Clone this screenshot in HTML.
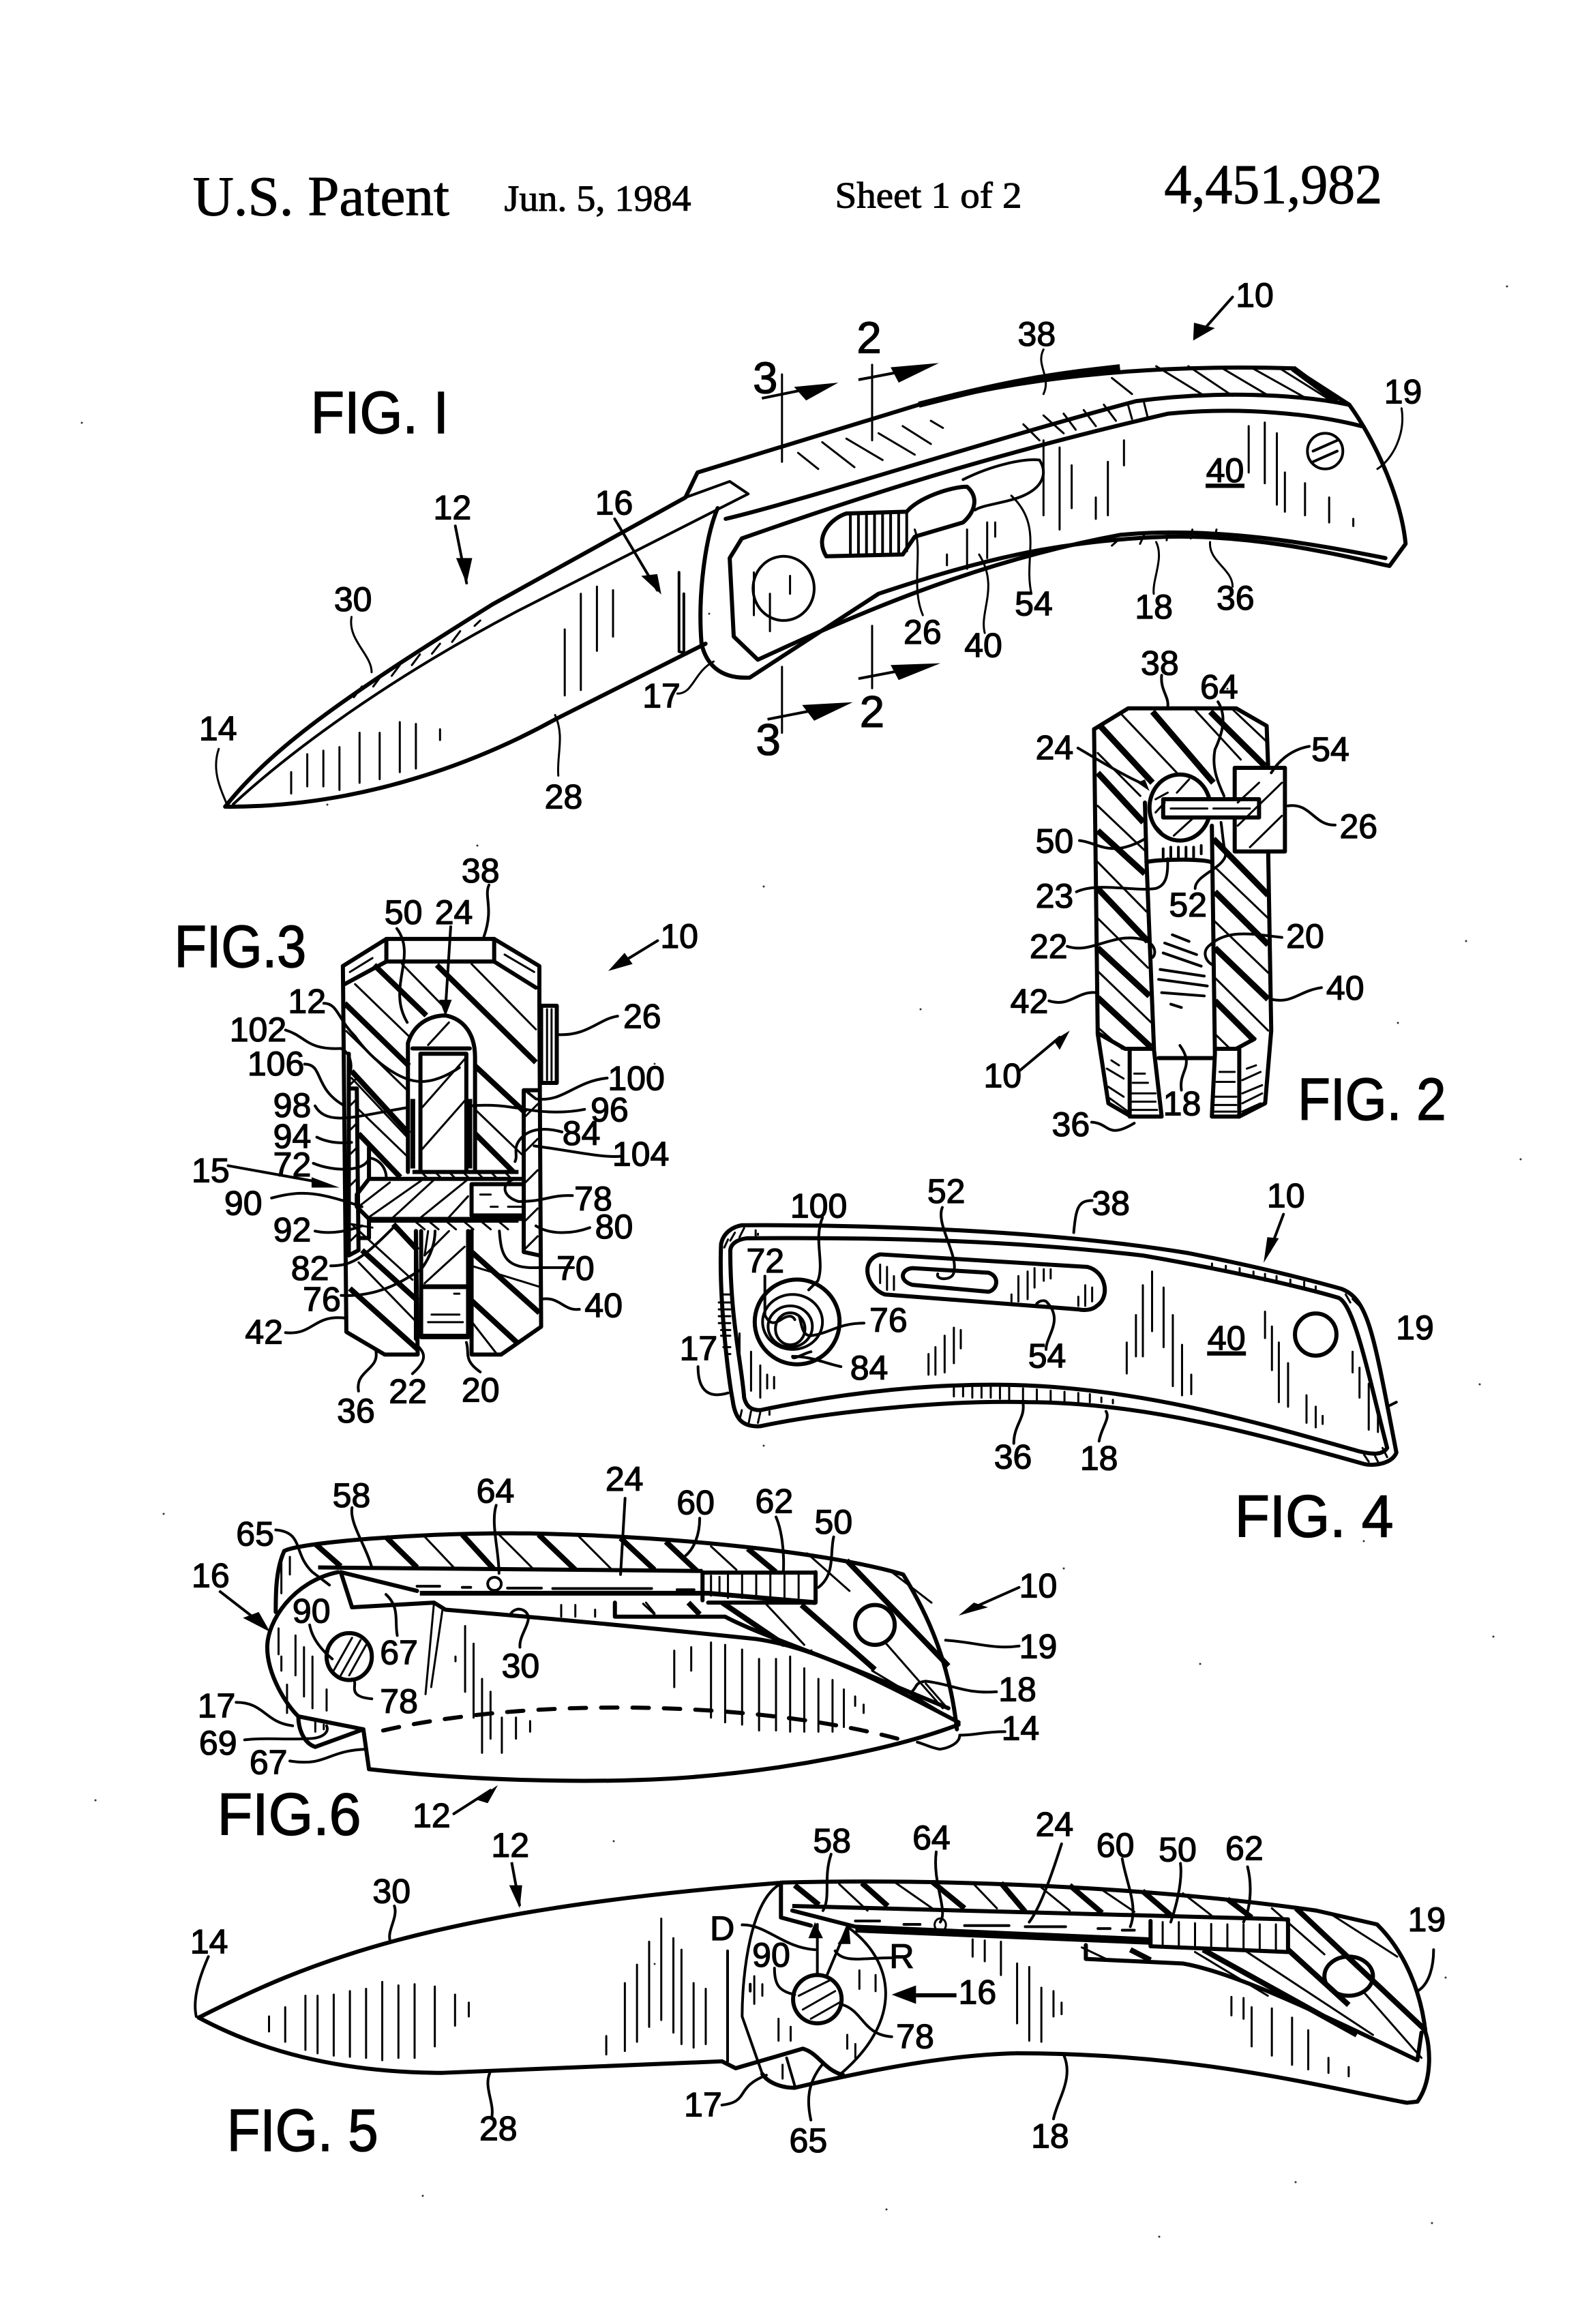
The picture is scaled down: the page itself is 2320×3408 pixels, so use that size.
<!DOCTYPE html>
<html><head><meta charset="utf-8"><title>U.S. Patent 4,451,982</title>
<style>
html,body{margin:0;padding:0;background:#fff}
svg{display:block}
path,line,ellipse,circle,rect,polyline{vector-effect:non-scaling-stroke;fill:none;stroke:#000;stroke-linecap:round;stroke-linejoin:round}
path.o,ellipse.o,rect.o,line.o,circle.o{stroke-width:6}
path.t,ellipse.t,line.t{stroke-width:3}
path.k{stroke-width:9;stroke-linecap:butt}
path.m,ellipse.m{stroke-width:4}
path.d{stroke-width:6;stroke-dasharray:24 22}
path.w,rect.w,ellipse.w{fill:#fff}
path.sp{stroke-width:3;stroke:#333}
polygon{fill:#000;stroke:none}
text{font-family:"Liberation Sans",sans-serif;fill:#000;stroke:#000;stroke-width:.6px;text-anchor:middle}
.n{font-size:23px}
.f{font-size:40px;stroke-width:.7px}
.s{font-size:30px}
.h{font-family:"Liberation Serif",serif;text-anchor:start;stroke-width:.45px}
</style></head><body>
<svg xmlns="http://www.w3.org/2000/svg" width="2320" height="3408" viewBox="0 0 2320 3408">
<rect x="0" y="0" width="2320" height="3408" style="fill:#fff;stroke:none"/>
<path class="sp" d="M120,620h0M2210,420h0M1040,900h0M1800,1010h0M2150,1380h0M1350,1480h0M960,1560h0M2230,1700h0M2170,2030h0M1120,2120h0M240,2220h0M1560,2300h0M2000,2260h0M2190,2400h0M140,2640h0M900,2700h0M1480,2780h0M2120,2900h0M620,3220h0M1300,3240h0M1900,3200h0M2100,3260h0M480,1180h0M700,1240h0M1120,1300h0M2050,1500h0M1190,2420h0M1760,2440h0M960,2880h0M1700,3280h0"/>

<!-- FIG 1 -->
<g transform="translate(250,400) scale(1.18,.523)">
<path class="o" d="M68,1497C130,1320 230,1170 400,930L640,630"/>
<path class="m" d="M78,1490C150,1340 270,1140 430,950L718,620L695,585L640,630"/>
<path class="o" d="M68,1497C250,1500 400,1350 480,1250L665,1040"/>
<path class="m" d="M632,840V1060M638,900V1065M632,1062L642,1068"/>
<path class="o" d="M640,630L655,560L930,370C1050,300 1200,255 1395,268L1465,370C1500,480 1530,640 1535,760L1515,822C1450,790 1350,735 1240,740C1100,750 1000,810 880,900L720,1135C680,1140 665,1090 660,1040C655,900 665,740 680,660"/>
<path class="k" d="M930,370C1050,300 1100,285 1180,265M1395,268L1450,360"/>
<path class="o" d="M690,690C800,630 1000,480 1200,360C1300,330 1400,340 1465,370"/>
<path class="o" d="M710,745C830,650 1000,520 1240,395C1330,375 1420,395 1480,430M710,745L695,800L700,1020L730,1085C850,960 1000,810 1180,735C1300,710 1420,760 1510,800"/>
<path class="m" d="M985,580C1020,540 1060,520 1080,525C1090,560 1085,600 1060,625C1040,645 1010,650 1000,665"/>
<path class="o" d="M815,795C800,740 820,690 840,675L915,670C930,630 970,600 990,600C1005,630 1000,670 985,700L925,740L910,790Z"/>
<path class="m" d="M845,680V790M855,678V790M865,676V790M875,674V790M885,672V790M895,672V790M905,672V790M915,672V780"/>
<ellipse class="m" cx="762" cy="885" rx="38" ry="90"/>
<ellipse class="m" cx="1435" cy="500" rx="22" ry="50"/>
<path class="m" d="M1420,500L1450,470M1420,530L1450,500"/>
<!-- section lines -->
<path class="t" d="M760,285V530M760,1105V1290M872,258V470M872,990V1165"/>
<path class="k" d="M735,352L800,322M855,300L920,272M855,1138L920,1110M742,1252L810,1222" style="stroke-width:4"/>
<polygon points="830,308 775,320 790,358"/><polygon points="955,253 895,265 905,308"/><polygon points="957,1095 895,1100 905,1142"/><polygon points="848,1204 785,1212 800,1256"/>
<!-- reference arrows -->
<path class="m" d="M1320,68L1280,170M354,710L368,870M552,690L605,890"/>
<polygon points="1271,190 1272,140 1298,155"/><polygon points="368,872 355,800 375,800"/><polygon points="610,902 585,850 605,845"/>
<!-- hatch -->
<path class="t" d="M1170,295L1195,340M1225,262L1285,345M1265,262L1320,345M1305,265L1365,345M1345,268L1410,350M1380,270L1440,355M780,505L805,550M810,475L850,545M840,465L885,525M880,450L925,510M910,430L945,480M945,415L960,435"/>
<path class="t" d="M1060,425L1080,470M1085,400L1110,450M1110,395L1125,440M1135,385L1150,430M1160,370L1175,415M1190,370L1195,410M1210,365L1215,410"/>
<path class="t" d="M1085,470V680M1105,490V720M1120,540V660M1150,630V690M1165,530V680M1185,470V540M1340,430V560M1360,420V590M1375,450V650M1385,560V670M1410,590V680M1440,630V700M1470,690V710"/>
<path class="t" d="M490,1000V1185M510,900V1170M530,880V1060M550,890V1020M150,1400V1460M170,1350V1440M190,1340V1440M210,1330V1450M235,1290V1430M260,1290V1420M285,1260V1400M305,1265V1390M335,1280V1310M725,840V960M745,900V1005M770,850V900M965,790V820M990,720V830M1015,700V800M1025,700V740"/>
<path class="t" d="M238,1160L228,1190M262,1130L252,1160M285,1100L275,1130M310,1070L300,1100M335,1040L325,1068M360,1005L350,1035M385,975L378,990M1180,745L1170,765M1210,735L1205,760M1240,725L1238,750M1270,720L1268,745M1300,720L1298,740"/>
<!-- leaders -->
<path class="t" d="M1085,215C1075,260 1095,290 1085,340M1530,380C1535,450 1520,520 1500,550M225,965C220,1030 250,1070 250,1120M60,1335C50,1400 65,1460 70,1490M482,1410C480,1350 490,1300 478,1240M630,1180C650,1180 650,1120 675,1090M935,960C920,880 935,780 925,720M1012,1010C1005,950 1030,880 1005,790M1070,900C1060,800 1085,710 1045,625M1222,900C1220,860 1235,800 1225,755M1320,880C1320,830 1290,810 1292,755"/>
</g>

<!-- FIG 2 -->
<g transform="translate(1400,920) scale(.4464,.4847)">
<path class="t" d="M550,265L730,440M790,250L940,400M915,250L1030,350M470,380L610,510M470,540L630,680M470,710L630,860M470,880L635,1030M470,1040L645,1195M470,1210L550,1275M860,730L1030,880M855,890L1030,1045M855,1060L1030,1220M855,1230L905,1275"/>
<path class="k" d="M480,300L650,470M650,255L850,470M840,255L1020,420M470,440L620,590M470,615L625,745M470,790L635,950M470,970L640,1115M470,1120L645,1270M850,640L1030,810M855,800L1030,960M855,970L1030,1125M855,1130L985,1250"/>
<path class="o" d="M458,308L570,245L925,245L1025,298L1030,425"/>
<path class="o" d="M458,308L470,1230L505,1440L580,1480L680,1480L655,1280L630,700L625,530"/>
<path class="o" d="M1030,678L1040,1220L1020,1440L935,1480L845,1480L855,1290L845,600"/>
<path class="o" d="M920,425H1085V678H920Z"/>
<circle class="o" cx="740" cy="545" r="100"/>
<rect class="w" x="685" y="520" width="315" height="55" style="stroke-width:6"/>
<path class="t" d="M710,548H830M850,548H970M660,560L690,530M650,590L680,620M720,630L780,580M770,460L730,500M700,500L660,520M930,530L1000,470M930,600L1075,470M970,665L1075,570"/>
<path class="o" d="M630,710C680,700 830,700 845,712"/>
<path class="m" d="M685,670V695M710,665V700M735,665V700M760,665V700M785,665V700M810,660V685"/>
<path class="o" d="M670,1303H845"/>
<path class="o" d="M475,1230L560,1275H650M575,1275V1480M985,1245L925,1275H855M935,1275V1480"/>
<path class="t" d="M515,1310L540,1325M500,1335L555,1365M505,1390L555,1420M510,1425L570,1465M590,1350H625M585,1378H635M575,1410H660M575,1435H660M575,1460H665M870,1345H920M860,1375H920M850,1420H925M850,1445H925M850,1465H925M960,1335L990,1325M945,1370L1005,1345M945,1410L1010,1385M945,1440L1010,1410M945,1465L1005,1440"/>
<path class="m" d="M715,930L770,950M690,955L795,990M685,985L810,1025M675,1035L820,1055M670,1065L830,1085M680,1105L820,1115M710,1140L745,1150"/>
<!-- leaders -->
<path class="m" d="M680,145C675,190 705,210 700,240M865,225C895,270 880,320 855,370C845,420 860,460 885,510M405,365C470,400 540,440 610,470M1165,360C1100,370 1060,410 1040,440M1250,598C1180,600 1170,530 1095,540M410,645C470,650 510,700 625,640M400,800C470,770 590,800 660,790C700,780 700,740 700,700M790,790C790,750 880,730 890,690C880,640 880,620 875,590M370,965C450,990 520,920 620,945C670,960 660,1000 645,1000M1075,938C990,930 900,910 840,960C810,980 825,1010 845,1020M310,1130C380,1150 400,1100 465,1105M1205,1090C1130,1100 1110,1140 1040,1125M745,1400C735,1340 790,1330 740,1265M450,1497C510,1500 500,1550 590,1500"/>
<polygon points="640,495 600,470 625,460"/>
<path class="m" d="M215,1340L345,1240"/><polygon points="378,1220 325,1250 345,1278"/>
</g>

<!-- FIG 3 -->
<g transform="translate(230,1280) scale(.51)">
<path class="t" d="M570,320L725,470M705,262L830,390M905,262L1090,450M545,455L720,625M560,590L720,760M580,680L725,820M735,1170L560,1010L620,1020M780,1030L770,1100M580,1120L745,1290M905,1130L1100,1190M905,1290L975,1380M915,680L1050,810M555,285L620,245M1000,235L1085,285"/>
<path class="k" d="M625,265L775,410M805,265L1090,545M540,375L725,555M560,570L725,750M580,750L700,875M915,555L1060,690M915,750L1025,860M590,1085L750,1230M905,1090L1100,1265M555,1195L750,1370M905,1230L1035,1350M680,1010L750,1085" style="stroke-width:8"/>
<path class="o" d="M535,268L660,190H970L1100,268V380L1105,1305L990,1385H905V1030"/>
<path class="o" d="M535,268L545,1320L655,1385H750L745,1030"/>
<path class="o" d="M660,190V255H970V190M540,320L660,255M970,255L1090,330"/>
<path class="o" d="M722,860V490C740,430 790,410 830,410C880,420 915,460 915,530V860"/>
<path class="o" d="M735,505H900M758,520H890V860M758,520V860"/>
<rect class="o" x="1105" y="382" width="45" height="222"/>
<path class="t" d="M1122,392V595M1135,392V595M758,800L890,650M758,680L890,530M780,495L840,430"/>
<path class="o" d="M552,520V1100L580,1085L575,620H552M610,790V880H1055M1055,625V1090L1100,1100M1055,625H1095M610,880L575,925V960L610,995H1055V880M610,995V1050H580"/>
<path class="w" d="M905,895H1055V985H905Z" style="stroke-width:6"/>
<path class="t" d="M930,925H960M960,960H980M1010,960H1050M580,960L670,890M610,990L760,885M680,990L800,880M760,990L890,885M840,990L895,930"/>
<path class="k" d="M735,860H1040M610,1000H1040" style="stroke-width:6"/>
<path class="t" d="M760,860L780,880M800,860L820,880M840,860L860,880M880,860L900,880M920,860L940,880M960,860L980,880M1000,860L1020,880M740,1000L770,1025M780,1000L810,1025M830,1000L860,1025M880,1000L910,1025M930,1000L960,1025M980,1000L1010,1025M555,610L575,590M555,670L575,650M555,740L575,720M555,810L575,790M555,900L575,880M555,1060L575,1040M1060,700L1095,665M1060,800L1095,765M1060,890L1095,855M1060,1000L1095,965M1060,1080L1095,1045"/>
<path class="o" d="M745,1030V1340M905,1030V1340M760,1030V1335H895V1030"/>
<path class="k" d="M765,1190H890M765,1332H895" style="stroke-width:7"/>
<path class="t" d="M770,1180L885,1075M770,1100L840,1030M790,1270H870M780,1292H880M855,1210H870"/>
<path class="k" d="M736,650V850M900,650V850" style="stroke-width:7"/>
<path class="m" d="M205,842L460,888"/><polygon points="525,905 445,875 445,905"/>
<path class="m" d="M1440,195L1350,250"/><polygon points="1298,282 1345,230 1368,262"/>
<path class="m" d="M845,155L830,390M955,35C940,70 970,100 940,185"/><polygon points="830,412 812,365 848,365"/>
<!-- leaders -->
<path class="m" d="M690,160C750,240 660,330 720,430M480,375C520,375 520,420 570,470C620,540 700,600 760,600C800,600 840,580 870,560M370,452C430,470 430,510 530,505C560,520 565,560 550,590M425,550C480,550 450,620 540,670M455,670C490,730 570,700 720,675M460,760C480,770 510,780 560,775M450,835C510,860 600,860 610,820C630,820 660,840 660,880M330,935C420,910 470,920 590,960M455,1030C500,1040 550,1030 590,1015M500,1130C560,1130 590,1110 680,1020M530,1215C630,1220 700,1180 760,1140C790,1100 800,1060 800,1030M370,1322C450,1330 450,1270 540,1280M580,1490C570,1430 640,1430 630,1375M735,1440C780,1400 770,1380 750,1360M930,1435C880,1400 900,1380 890,1350M1215,1255C1170,1260 1160,1220 1110,1225M1198,1135H1100C1000,1140 990,1100 985,1030M1245,1020C1190,1040 1130,1040 1090,1015M1195,928C1130,925 1120,945 1040,945C990,930 990,890 1030,880M1335,815C1280,820 1200,800 1085,785M1165,745C1130,735 1080,730 1050,760C1020,790 1040,810 1030,830M1230,680C1180,690 1120,690 1060,680C1000,670 960,665 900,670M1295,590C1200,600 1170,660 1090,650L1065,630M1325,412C1270,420 1240,470 1150,465"/>
</g>

<!-- FIG 4 -->
<g transform="translate(1000,1700) scale(.676,.336)">
<path class="o" d="M130,288C400,285 800,310 1100,410C1250,470 1350,520 1430,565C1490,610 1500,760 1550,1280C1540,1330 1500,1340 1480,1330C1250,1200 1000,1060 750,1060C550,1050 300,1110 170,1165C130,1170 115,1130 110,1050C100,950 80,600 85,370C90,320 110,295 130,288Z"/>
<path class="o" d="M140,345C400,340 700,350 1000,420C1200,490 1350,560 1425,605C1460,640 1490,950 1530,1260C1520,1290 1500,1290 1470,1275C1250,1150 1000,1000 720,985C500,975 300,1040 170,1095C150,1095 140,1080 135,1040C130,900 105,700 105,400C105,370 120,350 140,345Z"/>
<path class="o" d="M430,415L880,470C920,490 930,600 900,640C890,660 870,660 860,655L440,590C400,560 385,440 430,415Z"/>
<path class="o" d="M500,475L665,495C690,510 685,570 665,578L500,548C470,530 475,480 500,475Z"/>
<ellipse class="o" cx="250" cy="710" rx="92" ry="185"/>
<ellipse class="m" cx="240" cy="710" rx="65" ry="120"/>
<ellipse class="m" cx="235" cy="730" rx="48" ry="90"/>
<ellipse class="m" cx="235" cy="740" rx="32" ry="70"/>
<ellipse class="o" cx="1375" cy="765" rx="45" ry="92"/>
<path class="t" d="M430,460V540M445,470V570M460,510V570M715,590V620M730,510V620M750,490V610M765,475V560M785,480V530M800,480V520M860,600V640M875,550V640M890,560V620M535,850V940M550,820V940M570,770V930M590,735V890M605,745V825M965,800V935M985,680V860M1000,550V860M1020,490V750M1045,560V820M1065,680V990M1085,810V1030M1105,940V1025M1265,665V780M1280,730V920M1295,800V1060M1315,890V1080M1355,1030V1150M1375,1080V1170M1390,1120V1155M1455,840V930M1470,910V1040M1490,980V1180M1510,1100V1190M125,760V860M150,840V1010M170,900V1040M185,940V1000M200,950V1000"/>
<path class="t" d="M135,300L125,340M115,320L105,355M100,350L92,385M160,310V335M90,590H105M80,625H105M80,655H105M80,685H105M80,715H105M85,745H105M85,770H105M90,820H105M95,850H105M130,1095L125,1140M150,1100L145,1150M170,1105L165,1150M190,1100V1115M590,995V1035M610,995V1035M630,995V1040M650,995V1040M670,995V1040M690,995V1045M710,995V1050M740,1000V1050M770,1005V1050M800,1010V1055M830,1015V1055M860,1020V1060M885,1025V1060M910,1040V1060M935,1050V1065M1150,455V470M1180,465V490M1210,475V505M1240,490V515M1265,500V530M1290,510V540M1320,525V555M1350,535V565M1375,555V575M1440,590L1450,625M1455,610L1470,640M1480,1290L1490,1320M1500,1280L1510,1320M1520,1260L1530,1300M165,325V330"/>
<!-- leaders -->
<path class="m" d="M305,255C285,350 310,450 295,530L275,570M565,210C550,280 600,420 590,490C590,530 550,530 555,500M890,180C860,180 855,210 850,320M180,510V680C190,720 200,720 215,700C230,680 240,680 245,700M395,715C340,715 320,760 280,770C260,770 260,720 255,690M345,905C310,890 280,860 240,860C240,880 260,850 280,840M790,830C790,770 830,700 790,620C780,610 765,630 770,640M35,905C35,990 50,1050 100,1020M720,1240C720,1160 745,1130 740,1065M905,1230C910,1170 930,1130 920,1100M1550,1060L1530,1080"/>
<path class="m" d="M1305,240L1275,400"/><polygon points="1262,452 1270,340 1295,345"/>
</g>

<!-- FIG 6 -->
<g transform="translate(280,2130) scale(.829,.344)">
<path class="t" d="M410,350L465,490M545,350L605,495M685,355L745,500M920,400L965,500M1090,430L1165,590M1015,640L1085,820M805,640L820,685M1240,510L1310,640M1230,815L1330,1090M1300,985L1340,1095"/>
<path class="k" d="M220,390L265,485M345,360L400,490M480,350L535,495M615,350L680,500M760,365L820,500M840,380L895,505M985,410L1035,510M880,640L900,690M940,640L1050,820M1080,650L1210,925M1160,460L1340,910" style="stroke-width:8"/>
<path class="o" d="M165,420C190,385 400,340 600,345C900,360 1150,440 1260,520C1290,640 1340,850 1355,1180"/>
<path class="o" d="M165,420C150,500 150,600 150,680"/>
<path class="o" d="M260,510C180,550 135,720 135,830C135,950 170,1080 190,1125L305,1180L220,1255C200,1240 190,1180 190,1125"/>
<path class="o" d="M305,1180L315,1350C500,1400 700,1410 850,1390C1050,1360 1250,1260 1358,1160"/>
<path class="k" d="M225,490L905,505M905,512H1105" style="stroke-width:6"/>
<path class="k" d="M405,600H915L1105,640" style="stroke-width:7"/>
<path class="o" d="M1105,510V640H915M905,510V630"/>
<path class="o" d="M265,510L400,590M265,510L285,660L430,640L450,670C700,720 900,770 1000,795C1100,830 1200,950 1358,1150"/>
<path class="o" d="M750,640V700H945C1000,770 1100,850 1200,950L1340,1090"/>
<path class="t" d="M1205,930L1350,1140M800,645L820,690M430,640L415,1030M445,670L425,1000"/>
<path class="m" d="M400,570H440M480,575H495M560,578H620M640,580H815M860,585H890"/>
<ellipse class="m" cx="537" cy="560" rx="12" ry="28"/>
<ellipse class="o" cx="1210" cy="735" rx="35" ry="85"/>
<ellipse class="o" cx="280" cy="870" rx="40" ry="100"/>
<path class="t" d="M250,940L285,790M265,950L300,800M280,950L310,820M950,520V620M975,520V620M1000,520V620M1025,520V620M1050,520V620M1075,520V620M920,525V610M935,530V605"/>
<path class="d" d="M340,1185C600,1040 1000,1060 1250,1220"/>
<path class="t" d="M155,750V860M160,870V930M185,780V950M200,830V1040M215,870V1090M240,1010V1100M170,990V1110M485,740V1020M500,815V1130M515,965V1280M530,1020V1220M550,1130V1280M575,1130V1220M600,1145V1190M468,870V890M655,650V700M680,650V700M715,670V700M855,845V1000M885,830V930M920,810V1130M945,820V1150M975,840V1160M1005,880V1185M1035,880V1185M1060,870V1190M1085,920V1190M1110,965V1190M1135,970V1190M1155,1010V1170M1175,1040V1080M1190,1075V1110M160,455V600M175,445V520M220,1150V1190M235,1160V1180"/>
<!-- leaders -->
<path class="m" d="M285,235C280,300 310,400 320,490M540,225C530,300 545,420 545,515M900,280C900,350 890,410 875,440M1035,275C1045,330 1050,420 1048,510M1137,360C1130,430 1140,520 1110,575M150,330C200,340 180,430 215,510L245,565M345,605C370,660 360,720 365,780"/>
<path class="m" d="M582,830C580,770 610,710 590,675C580,660 570,670 565,690M210,735C215,800 235,850 250,880M320,1050C270,1040 300,980 285,965M1425,1020C1370,1030 1350,990 1300,975C1280,980 1285,1000 1275,1020M1465,825C1420,840 1390,810 1335,800M1440,1190C1400,1190 1390,1205 1360,1205C1360,1240 1340,1260 1325,1265C1310,1260 1300,1245 1285,1235M80,1065C130,1065 130,1150 180,1165M95,1225C130,1215 170,1225 205,1220C235,1220 245,1190 240,1165M175,1315C240,1340 240,1270 310,1265"/>
<path class="k" d="M50,590L125,730" style="stroke-width:4"/><polygon points="140,765 92,705 120,680"/>
<path class="m" d="M1465,575L1395,650"/><polygon points="1358,695 1385,640 1410,660"/>
<path class="m" d="M768,195L760,520M465,1540L530,1440"/><polygon points="543,1418 505,1480 525,1495"/>
</g>

<!-- FIG 5 -->
<g transform="translate(270,2660) scale(1.186,.3375)">
<path class="t" d="M810,305L845,420M880,300L925,410M975,300L1005,410M1060,320L1095,420M1135,330L1175,425M1235,345L1270,440M1110,580L1140,630M1250,600L1340,790M1310,590L1470,960M1345,410L1410,610M1420,440L1500,620M1460,780L1530,1060"/>
<path class="k" d="M755,310L785,395M838,300L870,400M925,295L965,410M1010,300L1040,425M1095,310L1135,430M1185,335L1220,440M1290,370L1320,450M1170,590L1195,635M1260,590L1450,960M1365,590L1440,830M1375,410L1535,940" style="stroke-width:8"/>
<path class="o" d="M18,885C150,650 300,420 735,300"/>
<path class="o" d="M18,885C100,1040 200,1125 320,1125L665,1075L682,1105L765,1020C785,1040 790,1110 815,1135"/>
<path class="o" d="M740,298C950,280 1200,320 1400,420L1475,480C1510,600 1530,780 1535,950C1540,1000 1545,1150 1525,1250L1512,1255C1400,1180 1250,1040 1030,1040C950,1045 850,1110 755,1190C735,1190 720,1160 715,1130"/>
<path class="m" d="M740,300C700,360 690,700 690,880L715,1130M820,490C880,640 890,900 810,1135M672,595V1075"/>
<path class="o" d="M738,298V450L775,485"/>
<path class="k" d="M752,400L1365,458" style="stroke-width:6"/>
<path class="o" d="M1365,458V600L1195,575V465"/>
<path class="o" d="M752,420L830,490L1195,545"/>
<path class="k" d="M830,505L1195,558" style="stroke-width:7"/>
<path class="o" d="M1115,570V630L1235,650C1300,690 1400,860 1525,1070"/>
<path class="o" d="M1530,950L1525,1070"/>
<path class="m" d="M830,465H860M890,480H910M965,485H1020M1040,490H1090M1130,498H1145M1160,505H1175"/>
<ellipse class="t" cx="935" cy="482" rx="7" ry="28"/>
<path class="t" d="M1210,470V570M1230,470V575M1250,475V580M1270,478V580M1290,480V590M1310,480V590M1330,480V595M1350,480V595"/>
<ellipse class="o" cx="1440" cy="705" rx="30" ry="85"/>
<ellipse class="o" cx="783" cy="805" rx="30" ry="105"/>
<path class="t" d="M760,790L800,720M765,850L805,770M775,890L810,820"/>
<path class="t" d="M105,880V945M125,840V990M150,790V1025M165,790V1040M185,785V1050M205,770V1055M225,760V1060M245,730V1070M265,745V1060M285,740V1060M310,750V1010M335,785V920M352,820V880M522,965V1045M545,735V1030M560,655V990M575,555V925M590,455V895M605,540V950M615,590V1000M630,735V1015M645,760V1000M705,705V825M715,740V790M735,890V985M750,925V985M820,960V1020M835,680V760M855,700V770M830,1000V1060M975,545V620M990,550V640M1010,555V700M1030,650V910M1045,665V985M1060,755V990M1075,770V880M1085,820V870M1295,795V875M1310,800V890M1320,840V1010M1345,845V1050M1370,885V1090M1390,940V1110M1415,1060V1125M1440,1100V1140M740,1090V1150"/>
<path class="m" d="M745,1060L755,1180M700,740V770"/>
<!-- leaders -->
<path class="m" d="M260,400C265,450 250,510 255,555M30,620C20,700 10,800 15,880M380,1325C385,1260 370,1190 378,1125M1075,1325C1080,1240 1100,1150 1088,1050M775,1330C770,1250 770,1170 790,1085M665,1265C700,1250 680,1190 720,1135M690,482C720,480 740,580 780,590M805,595C815,650 840,625 875,625M730,670C730,740 735,770 755,785M815,830C840,860 840,960 875,968M930,165C925,300 945,420 935,470M1085,130C1075,240 1060,400 1045,470M1160,195C1165,300 1180,400 1170,490M1232,215C1235,300 1225,420 1220,470M1315,230C1320,300 1320,400 1310,470M1545,590C1545,660 1540,740 1525,770M800,175C790,280 800,360 790,420"/>
<path class="k" d="M405,210L415,400" style="stroke-width:4"/><polygon points="415,410 402,310 418,310"/>
<path class="k" d="M955,788H905" style="stroke-width:6"/><polygon points="875,785 905,745 905,825"/>
<path class="m" d="M783,700V480M795,700L820,490"/><polygon points="780,470 772,540 790,540"/><polygon points="822,490 808,565 824,565"/>
</g>

<!-- TEXT -->
<g transform="scale(2.175)">
<text class="h" x="130" y="145" style="font-size:38px" textLength="173" lengthAdjust="spacingAndGlyphs">U.S. Patent</text>
<text class="h" x="340" y="142" style="font-size:25px" textLength="126" lengthAdjust="spacingAndGlyphs">Jun. 5, 1984</text>
<text class="h" x="563" y="140" style="font-size:25px" textLength="126" lengthAdjust="spacingAndGlyphs">Sheet 1 of 2</text>
<text class="h" x="785" y="137" style="font-size:38px" textLength="147" lengthAdjust="spacingAndGlyphs">4,451,982</text>

<text class="f" x="256" y="292" textLength="93" lengthAdjust="spacingAndGlyphs">FIG. I</text>
<text class="n" x="699" y="233">38</text><text class="n" x="846" y="207">10</text><text class="n" x="946" y="272">19</text>
<text class="n" x="305" y="350">12</text><text class="n" x="414" y="347">16</text><text class="n" x="238" y="412">30</text>
<text class="n" x="147" y="499">14</text><text class="n" x="380" y="545">28</text><text class="n" x="446" y="477">17</text>
<text class="n" x="622" y="434">26</text><text class="n" x="663" y="443">40</text><text class="n" x="697" y="415">54</text>
<text class="n" x="778" y="417">18</text><text class="n" x="833" y="411">36</text>
<text class="n" x="826" y="325" text-decoration="underline">40</text>
<text class="s" x="586" y="238">2</text><text class="s" x="516" y="265">3</text><text class="s" x="588" y="490">2</text><text class="s" x="518" y="509">3</text>

<text class="n" x="782" y="455">38</text><text class="n" x="822" y="471">64</text><text class="n" x="711" y="512">24</text>
<text class="n" x="897" y="513">54</text><text class="n" x="916" y="565">26</text><text class="n" x="711" y="575">50</text>
<text class="n" x="801" y="618">52</text><text class="n" x="711" y="612">23</text><text class="n" x="707" y="646">22</text>
<text class="n" x="880" y="639">20</text><text class="n" x="694" y="683">42</text><text class="n" x="907" y="674">40</text>
<text class="n" x="676" y="733">10</text><text class="n" x="797" y="752">18</text><text class="n" x="722" y="766">36</text>
<text class="f" x="925" y="755" textLength="100" lengthAdjust="spacingAndGlyphs">FIG. 2</text>

<text class="f" x="162" y="652" textLength="89" lengthAdjust="spacingAndGlyphs">FIG.3</text>
<text class="n" x="272" y="623">50</text><text class="n" x="306" y="623">24</text><text class="n" x="324" y="595">38</text>
<text class="n" x="458" y="639">10</text><text class="n" x="207" y="683">12</text><text class="n" x="433" y="693">26</text>
<text class="n" x="174" y="702">102</text><text class="n" x="186" y="725">106</text><text class="n" x="429" y="735">100</text>
<text class="n" x="197" y="753">98</text><text class="n" x="411" y="756">96</text><text class="n" x="197" y="774">94</text>
<text class="n" x="392" y="772">84</text><text class="n" x="432" y="786">104</text><text class="n" x="197" y="793">72</text>
<text class="n" x="142" y="797">15</text><text class="n" x="164" y="819">90</text><text class="n" x="400" y="816">78</text>
<text class="n" x="197" y="837">92</text><text class="n" x="414" y="835">80</text><text class="n" x="209" y="863">82</text>
<text class="n" x="388" y="863">70</text><text class="n" x="217" y="884">76</text><text class="n" x="407" y="888">40</text>
<text class="n" x="178" y="906">42</text><text class="n" x="275" y="946">22</text><text class="n" x="324" y="945">20</text><text class="n" x="240" y="959">36</text>

<text class="n" x="638" y="811">52</text><text class="n" x="552" y="821">100</text><text class="n" x="749" y="819">38</text>
<text class="n" x="867" y="814">10</text><text class="n" x="516" y="858">72</text><text class="n" x="599" y="898">76</text>
<text class="n" x="706" y="922">54</text><text class="n" x="586" y="930">84</text>
<text class="n" x="827" y="910" text-decoration="underline">40</text>
<text class="n" x="471" y="917">17</text><text class="n" x="954" y="903">19</text><text class="n" x="683" y="990">36</text><text class="n" x="741" y="991">18</text>
<text class="f" x="886" y="1036" textLength="107" lengthAdjust="spacingAndGlyphs">FIG. 4</text>

<text class="n" x="237" y="1016">58</text><text class="n" x="334" y="1013">64</text><text class="n" x="421" y="1005">24</text>
<text class="n" x="469" y="1021">60</text><text class="n" x="522" y="1020">62</text><text class="n" x="562" y="1034">50</text>
<text class="n" x="172" y="1042">65</text><text class="n" x="142" y="1070">16</text><text class="n" x="700" y="1077">10</text>
<text class="n" x="210" y="1094">90</text><text class="n" x="269" y="1122">67</text><text class="n" x="351" y="1131">30</text>
<text class="n" x="700" y="1118">19</text><text class="n" x="269" y="1155">78</text><text class="n" x="686" y="1147">18</text>
<text class="n" x="146" y="1158">17</text><text class="n" x="688" y="1173">14</text><text class="n" x="147" y="1183">69</text>
<text class="n" x="181" y="1196">67</text><text class="n" x="291" y="1232">12</text>
<text class="f" x="195" y="1237" textLength="97" lengthAdjust="spacingAndGlyphs">FIG.6</text>

<text class="n" x="344" y="1252">12</text><text class="n" x="264" y="1283">30</text><text class="n" x="561" y="1249">58</text>
<text class="n" x="628" y="1247">64</text><text class="n" x="711" y="1238">24</text><text class="n" x="752" y="1252">60</text>
<text class="n" x="794" y="1255">50</text><text class="n" x="839" y="1254">62</text><text class="n" x="962" y="1302">19</text>
<text class="n" x="141" y="1317">14</text><text class="n" x="487" y="1308">D</text><text class="n" x="608" y="1327">R</text>
<text class="n" x="520" y="1326">90</text><text class="n" x="659" y="1351">16</text><text class="n" x="617" y="1381">78</text>
<text class="n" x="474" y="1427">17</text><text class="n" x="336" y="1443">28</text><text class="n" x="545" y="1451">65</text><text class="n" x="708" y="1448">18</text>
<text class="f" x="204" y="1450" textLength="102" lengthAdjust="spacingAndGlyphs">FIG. 5</text>
</g>
</svg>
</body></html>
